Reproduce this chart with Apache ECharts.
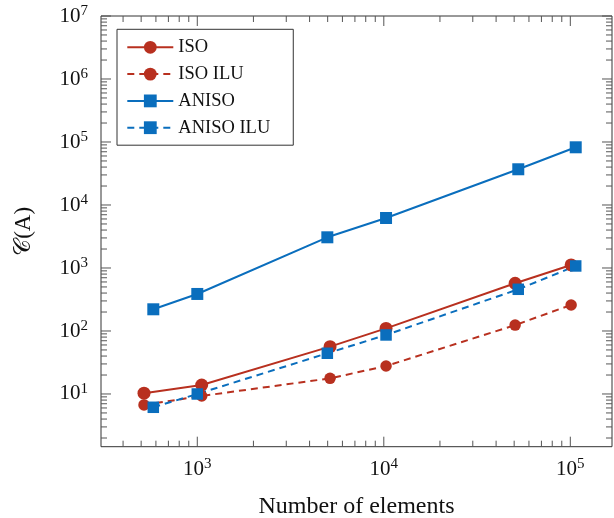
<!DOCTYPE html>
<html><head><meta charset="utf-8">
<script src="https://cdn.jsdelivr.net/npm/echarts@6/dist/echarts.min.js"></script>
<style>html,body{margin:0;padding:0;background:#fff}#c{width:614px;height:518px}</style>
</head><body><div id="c"></div>
<script>
// ---- data ----
const seriesNames = ['ISO', 'ISO ILU', 'ANISO', 'ANISO ILU'];
const isoElements = [518, 1056, 5150, 10280, 50600, 101000];
const isoValues = [10.3, 13.9, 56.4, 110, 571, 1117];
const isoIluValues = [6.7, 9.3, 17.7, 27.8, 124, 259];
const anisoElements = [581, 1000, 4980, 10280, 52600, 106900];
const anisoValues = [221, 387, 3070, 6220, 36900, 82400];
const anisoIluValues = [6.15, 10, 44.3, 86.5, 459, 1077];
const xTickExponents = [3, 4, 5];
const yTickExponents = [1, 2, 3, 4, 5, 6, 7];
const xRange = [304.6, 167300];
const yRange = [1.456, 1e7];

// ---- build ----
const L = Math.log10;
const FONT = '"Liberation Serif", "DejaVu Serif", serif';
const RED = '#b8301f';
const BLUE = '#0a6ebd';
const xLo = L(xRange[0]), xHi = L(xRange[1]);
const yLo = L(yRange[0]), yHi = L(yRange[1]);

function pairs(xs, ys) { return xs.map((x, i) => [L(x), L(ys[i])]); }
function tickList(lo, hi) {
  const out = [];
  for (let e = Math.floor(lo); e <= Math.ceil(hi); e++) {
    for (let m = 1; m <= 9; m++) {
      const v = e + L(m);
      if (v >= lo - 1e-9 && v <= hi + 1e-9) out.push([v, m === 1]);
    }
  }
  return out;
}
const xTicks = tickList(xLo, xHi);
const yTicks = tickList(yLo, yHi);

const richLabel = {
  b: { fontFamily: FONT, fontSize: 21, lineHeight: 25, color: '#111' },
  s: { fontFamily: FONT, fontSize: 15, lineHeight: 15, verticalAlign: 'top', color: '#111' }
};
const expFmt = v => '{b|10}{s|' + Math.round(v) + '}';

function mkLine(name, xs, ys, color, dashed, symbol, size) {
  return {
    name, type: 'line', data: pairs(xs, ys),
    symbol, symbolSize: size,
    lineStyle: { color, width: 2, type: dashed ? [7, 5] : 'solid' },
    itemStyle: { color },
    emphasis: { disabled: true }, animation: false
  };
}

const chart = echarts.init(document.getElementById('c'));
chart.setOption({
  animation: false,
  backgroundColor: '#fff',
  grid: { left: 101, right: 2, top: 16, bottom: 71.3, show: true, borderColor: '#333', borderWidth: 1, backgroundColor: 'transparent', outerBoundsMode: 'none' },
  xAxis: {
    type: 'value', min: xLo, max: xHi,
    splitLine: { show: false }, axisLine: { show: false }, axisTick: { show: false },
    axisLabel: { customValues: xTickExponents, formatter: expFmt, rich: richLabel, margin: 10 },
    name: 'Number of elements', nameLocation: 'middle', nameGap: 48,
    nameTextStyle: { fontFamily: FONT, fontSize: 24, color: '#111' }
  },
  yAxis: {
    type: 'value', min: yLo, max: yHi,
    splitLine: { show: false }, axisLine: { show: false }, axisTick: { show: false },
    axisLabel: { customValues: yTickExponents, formatter: expFmt, rich: richLabel, margin: 13 },
    name: '𝒞(A)', nameLocation: 'middle', nameGap: 66, nameRotate: 90,
    nameTextStyle: { fontFamily: FONT, fontSize: 23, color: '#111' }
  },
  legend: {
    data: seriesNames, orient: 'vertical', left: 117, top: 29.3,
    itemWidth: 46, itemHeight: 16, itemGap: 7.8,
    padding: [8.5, 23, 8, 9.3],
    borderColor: '#333', borderWidth: 1, backgroundColor: '#fff',
    textStyle: { fontFamily: FONT, fontSize: 18.5, lineHeight: 18, color: '#111' },
    selectedMode: false
  },
  series: [
    mkLine('ISO', isoElements, isoValues, RED, false, 'circle', 13),
    mkLine('ISO ILU', isoElements, isoIluValues, RED, true, 'circle', 11.5),
    mkLine('ANISO', anisoElements, anisoValues, BLUE, false, 'rect', 12),
    mkLine('ANISO ILU', anisoElements, anisoIluValues, BLUE, true, 'rect', 11.5),
    {
      type: 'custom', silent: true, clip: false, z: 5,
      data: [[xLo, yLo]],
      renderItem(params, api) {
        const ch = [];
        const [, yb] = api.coord([xLo, yLo]);
        const [, yt] = api.coord([xLo, yHi]);
        const [xl] = api.coord([xLo, yLo]);
        const [xr] = api.coord([xHi, yLo]);
        const st = { stroke: '#555', lineWidth: 1 };
        xTicks.forEach(([v, maj]) => {
          const len = maj ? 10 : 6;
          const x = api.coord([v, yLo])[0];
          ch.push({ type: 'line', shape: { x1: x, y1: yb, x2: x, y2: yb - len }, style: st });
          ch.push({ type: 'line', shape: { x1: x, y1: yt, x2: x, y2: yt + len }, style: st });
        });
        yTicks.forEach(([v, maj]) => {
          const len = maj ? 10 : 6;
          const y = api.coord([xLo, v])[1];
          ch.push({ type: 'line', shape: { x1: xl, y1: y, x2: xl + len, y2: y }, style: st });
          ch.push({ type: 'line', shape: { x1: xr, y1: y, x2: xr - len, y2: y }, style: st });
        });
        return { type: 'group', children: ch };
      }
    }
  ]
});
</script></body></html>
